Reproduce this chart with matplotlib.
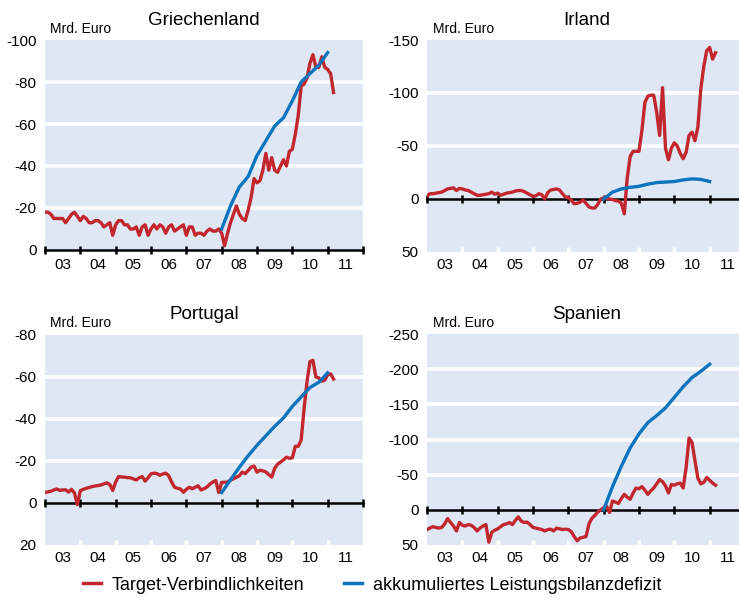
import numpy as np
import matplotlib
matplotlib.use("Agg")
import matplotlib.pyplot as plt
from matplotlib.lines import Line2D
from matplotlib.ticker import NullFormatter

plt.rcParams['font.family'] = ['Liberation Sans', 'DejaVu Sans']
plt.rcParams['axes.unicode_minus'] = False

# ---------------- data (Mrd. Euro, shown with inverted sign axis) ----------------
year_labels = ['03', '04', '05', '06', '07', '08', '09', '10', '11']
target_start = 2003.0      # monthly series, Jan 2003
deficit_start = 2008.0     # quarterly series

greece_target = [
    -18, -18, -17, -15, -15, -15, -15, -13, -15, -17, -18, -16,
    -14, -16, -15, -13, -13, -14, -14, -13, -11, -12, -13, -7,
    -12, -14, -14, -12, -12, -10, -10, -11, -7, -11, -12, -7,
    -10, -12, -10, -12, -11, -8, -11, -12, -9, -10, -11, -12,
    -7, -11, -11, -7, -8, -8, -7, -9, -10, -9, -9, -10,
    -8, -2, -8, -13, -17, -21, -17, -15, -14, -19, -25, -34,
    -32, -33, -38, -46, -38, -44, -38, -37, -40, -43, -40, -47,
    -48, -55, -64, -78, -79, -82, -89, -93, -87, -87, -92, -87,
    -86, -84, -75]
greece_deficit = [-10, -21, -30, -35, -45, -52, -59, -63, -71, -80, -84, -88, -94]

ireland_target = [
    -3, -5, -5, -5.5, -6, -6.5, -8, -9.5, -10, -10.5, -8, -10,
    -9.5, -8.5, -8, -6.5, -5, -3.5, -3.5, -4, -4.5, -5, -6.5, -4.5,
    -5.5, -3.5, -4.5, -5.5, -6, -6.5, -7.5, -8, -8, -7, -5.5, -4,
    -2.5, -3, -5, -4, 0, -6, -8.5, -9, -9.5, -8.5, -5, -2,
    -1, 1, 4.5, 4, 3, 1, 4, 7.5, 8.5, 8.5, 5, 0,
    -1, -0.5, 0, 0.5, 1.5, 2, 4, 14, -20, -40, -45, -45,
    -45, -65, -91, -97, -98, -98, -82, -60, -105, -48, -37, -48,
    -53, -50, -43, -38, -44, -60, -63, -55, -68, -104, -125, -140,
    -143, -132, -138]
ireland_deficit = [0, -6.5, -9.5, -11, -12, -14, -15.5, -16, -16.5, -18, -19, -18.5, -16.5]

portugal_target = [
    -5, -5.3, -5.6, -6.2, -6.7, -6, -6.2, -6.3, -5.2, -6.5, -4.8, 0.8,
    -5.9, -6.5, -7, -7.4, -7.8, -8.1, -8.3, -8.6, -9.1, -9.6, -8.8, -6,
    -10, -12.6, -12.4, -12.3, -12.1, -12, -11.5, -11, -12, -12.6, -10.4, -12,
    -13.9, -14.2, -14, -13.2, -13.8, -14.2, -13, -10, -7.5, -7, -6.7, -5.1,
    -6.5, -7.5, -6.8, -7.5, -8.2, -6.2, -6.8, -7.6, -9, -10, -10.7, -5,
    -9.8, -9.9, -9.9, -11, -11.5, -12.2, -13, -14.7, -14, -15.5, -17.1, -17.6,
    -14.7, -15.6, -15.3, -14.8, -13.5, -12.3, -16.5, -18.5, -19.5, -20.5, -21.8, -21.3,
    -21.5, -27, -27, -30, -45, -58, -67.4, -67.9, -60, -59.6, -58, -58.5,
    -61, -61.5, -59]
portugal_deficit = [-5, -11, -17, -22.5, -27.5, -32, -36.5, -40.5, -46, -50.5, -55, -57.5, -62]

spain_target = [
    28, 26, 24, 25, 26, 25, 20, 12.5, 18, 23, 30, 18,
    22, 23, 21, 22, 25, 30, 26, 23, 21, 46, 32, 29,
    27, 24, 21, 20, 18, 21, 15, 10, 16, 18, 17.5, 21,
    25, 26, 27, 28, 30, 28, 27.5, 30, 26, 27, 28, 27.5,
    28, 31, 38, 44, 40, 39, 38, 20, 12, 8, 3, 0,
    -3, -5, 3.8, -12.6, -11, -9, -16, -22, -18, -15, -24, -31,
    -30, -33, -28, -22, -27, -31, -37, -43, -40, -34, -24, -36,
    -35, -37, -38, -31, -60, -102, -96, -70, -45, -37, -39, -46,
    -42, -38, -35]
spain_deficit = [0, -33, -62, -88, -108, -124, -134, -145, -160, -175, -188, -197, -207]

# ---------------- style ----------------
RED = '#c1272d'
BLUE = '#0b74bc'
BG = '#dfe6f4'
W, H = 739, 598


def rect(l, t, r, b):
    return [l / W, 1 - b / H, (r - l) / W, (b - t) / H]


panels = [
    dict(title='Griechenland', target=greece_target, deficit=greece_deficit,
         ylim=(0, -100), yticks=[0, -20, -40, -60, -80, -100],
         box=(45, 40, 363, 250), title_xy=(204, 25), unit_xy=(50, 33), lab_pad=6.0),
    dict(title='Irland', target=ireland_target, deficit=ireland_deficit,
         ylim=(50, -150), yticks=[50, 0, -50, -100, -150],
         box=(427, 40, 745, 252), title_xy=(587, 25), unit_xy=(433, 33), lab_pad=4.5),
    dict(title='Portugal', target=portugal_target, deficit=portugal_deficit,
         ylim=(20, -80), yticks=[20, 0, -20, -40, -60, -80],
         box=(45, 335, 363, 545), title_xy=(204, 319), unit_xy=(50, 327), lab_pad=4.0),
    dict(title='Spanien', target=spain_target, deficit=spain_deficit,
         ylim=(50, -250), yticks=[50, 0, -50, -100, -150, -200, -250],
         box=(427, 334, 745, 545), title_xy=(587, 319), unit_xy=(433, 327), lab_pad=4.0),
]

fig = plt.figure(figsize=(7.39, 5.98), dpi=100)
years = np.arange(2003, 2013)
mids = years[:-1] + 0.5

for p in panels:
    ax = fig.add_axes(rect(*p['box']))
    ax.set_facecolor(BG)
    ax.set_xlim(2003, 2012)
    ax.set_ylim(*p['ylim'])
    ax.set_yticks(p['yticks'])
    # white grid only at interior levels (not on the frame edges)
    inner = [v for v in p['yticks'] if v not in p['ylim'] and v != 0]
    for v in inner:
        ax.axhline(v, color='white', lw=2.6, zorder=0.5)
    ax.tick_params(axis='y', length=0, pad=6, labelsize=11)
    for s in ['top', 'right', 'left']:
        ax.spines[s].set_visible(False)
    ax.spines['bottom'].set_position(('data', 0))
    ax.spines['bottom'].set_linewidth(1.8)
    ax.spines['bottom'].set_zorder(2.6)
    ax.xaxis.set_zorder(2.7)
    ax.set_xticks(years)
    ax.tick_params(axis='x', direction='inout', length=6, width=1.8,
                   color='black', labelbottom=False)

    # small white year marks along the lower edge (panels whose bottom is below zero)
    if p['ylim'][0] != 0:
        ax.vlines(years[1:-1], 0, 0.025, transform=ax.get_xaxis_transform(),
                  colors='white', lw=2.5, zorder=1)

    tx = target_start + np.arange(len(p['target'])) / 12.0
    ax.plot(tx, p['target'], color=RED, lw=2.4, solid_joinstyle='round', zorder=3)
    dx = deficit_start + np.arange(len(p['deficit'])) * 0.25
    ax.plot(dx, p['deficit'], color=BLUE, lw=2.4, solid_joinstyle='round', zorder=4)

    sec = ax.secondary_xaxis('bottom')
    sec.spines['bottom'].set_visible(False)
    sec.set_xticks(years[1:-1])
    sec.xaxis.set_major_formatter(NullFormatter())
    sec.tick_params(which='major', length=0)
    sec.set_xticks(mids, minor=True)
    sec.set_xticklabels(year_labels, minor=True)
    sec.tick_params(which='minor', length=0, pad=p['lab_pad'], labelsize=11)

    tx_, ty_ = p['title_xy']
    fig.text(tx_ / W, 1 - ty_ / H, p['title'], ha='center', va='baseline', fontsize=13.5)
    ux, uy = p['unit_xy']
    fig.text(ux / W, 1 - uy / H, 'Mrd. Euro', ha='left', va='baseline', fontsize=10)

handles = [Line2D([], [], color=RED, lw=2.5), Line2D([], [], color=BLUE, lw=2.5)]
fig.legend(handles, ['Target-Verbindlichkeiten', 'akkumuliertes Leistungsbilanzdefizit'],
           loc='center', bbox_to_anchor=(372 / W, 1 - 585 / H), ncol=2, frameon=False,
           fontsize=13, handlelength=1.0, handletextpad=0.6, columnspacing=2.2)

fig.savefig('out.png', dpi=100)
